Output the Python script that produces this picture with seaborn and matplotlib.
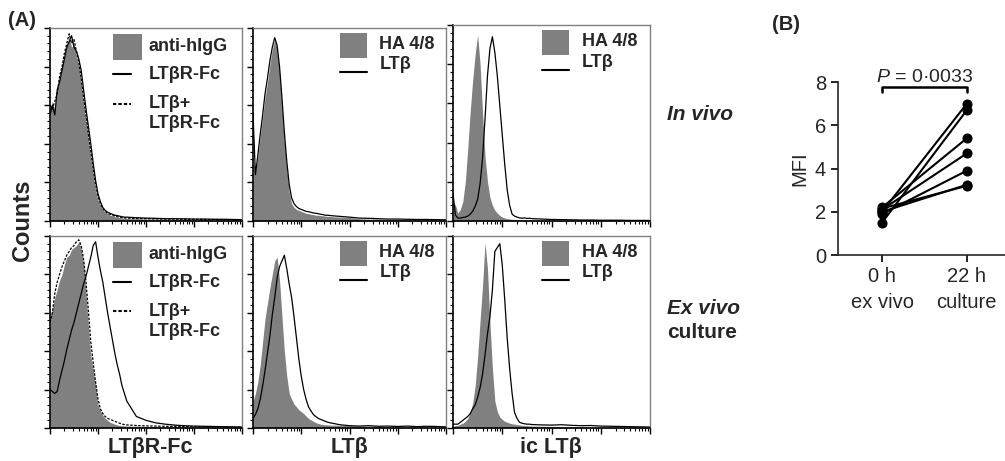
import matplotlib
matplotlib.use('Agg')
import matplotlib.pyplot as plt
import seaborn as sns
import pandas as pd
import numpy as np
from matplotlib.ticker import FixedLocator, MultipleLocator, NullFormatter
from matplotlib.patches import Rectangle

sns.set_style('ticks')
plt.rcParams['font.family'] = ['Liberation Sans', 'DejaVu Sans']
plt.rcParams['mathtext.fontset'] = 'custom'
plt.rcParams['mathtext.it'] = 'Liberation Sans:italic'
plt.rcParams['mathtext.rm'] = 'Liberation Sans'

# fluorescence channel (log10 units), shared by all histograms
channels = [0.00, 0.05, 0.10, 0.15, 0.20, 0.25, 0.30, 0.35, 0.40, 0.45, 0.50,
            0.55, 0.60, 0.65, 0.70, 0.75, 0.80, 0.85, 0.90, 0.95, 1.00, 1.05,
            1.10, 1.15, 1.20, 1.25, 1.30, 1.35, 1.40, 1.45, 1.50, 1.55, 1.60,
            1.80, 2.00, 2.20, 2.40, 2.60, 2.80, 3.00, 3.20, 3.40, 3.60, 3.80, 4.00]

# in vivo, LTbR-Fc staining
invivo_ltbr_igg = [0.58, 0.62, 0.57, 0.70, 0.74, 0.80, 0.85, 0.91, 0.95, 0.90, 0.92, 0.85, 0.80,
                   0.72, 0.61, 0.52, 0.43, 0.33, 0.24, 0.16, 0.11, 0.08, 0.06, 0.045, 0.04,
                   0.03, 0.028, 0.022, 0.02, 0.018, 0.016, 0.014, 0.013,
                   0.012, 0.01, 0.01, 0.009, 0.008, 0.008, 0.007, 0.007, 0.006, 0.006, 0.005, 0.004]
invivo_ltbr_fc = [0.55, 0.60, 0.55, 0.68, 0.72, 0.78, 0.84, 0.90, 0.93, 0.96, 0.90, 0.88, 0.84,
                  0.78, 0.68, 0.58, 0.49, 0.40, 0.30, 0.21, 0.14, 0.10, 0.07, 0.055, 0.045,
                  0.04, 0.035, 0.03, 0.028, 0.025, 0.022, 0.02, 0.02,
                  0.017, 0.015, 0.014, 0.012, 0.012, 0.011, 0.01, 0.01, 0.009, 0.009, 0.008, 0.007]
invivo_ltbr_block = [0.60, 0.58, 0.62, 0.66, 0.75, 0.80, 0.87, 0.92, 0.97, 0.92, 0.94, 0.88, 0.82,
                     0.74, 0.64, 0.55, 0.45, 0.36, 0.27, 0.19, 0.13, 0.09, 0.065, 0.05, 0.04,
                     0.035, 0.03, 0.025, 0.022, 0.02, 0.018, 0.016, 0.015,
                     0.013, 0.012, 0.011, 0.01, 0.01, 0.009, 0.009, 0.008, 0.008, 0.007, 0.006, 0.005]

# in vivo, surface LTb
invivo_lt_ha = [0.32, 0.26, 0.33, 0.44, 0.54, 0.64, 0.72, 0.81, 0.89, 0.94, 0.89, 0.77, 0.59,
                0.41, 0.27, 0.15, 0.09, 0.07, 0.06, 0.055, 0.05, 0.045, 0.04, 0.038, 0.035,
                0.033, 0.03, 0.03, 0.028, 0.027, 0.025, 0.024, 0.023,
                0.02, 0.018, 0.012, 0.01, 0.01, 0.008, 0.008, 0.007, 0.006, 0.006, 0.005, 0.004]
invivo_lt_ltb = [0.56, 0.24, 0.34, 0.45, 0.55, 0.66, 0.74, 0.83, 0.90, 0.95, 0.91, 0.80, 0.64,
                 0.46, 0.31, 0.19, 0.12, 0.09, 0.075, 0.065, 0.06, 0.055, 0.05, 0.048, 0.045,
                 0.042, 0.04, 0.038, 0.035, 0.033, 0.03, 0.03, 0.028,
                 0.024, 0.02, 0.015, 0.014, 0.012, 0.01, 0.01, 0.009, 0.008, 0.008, 0.007, 0.006]

# in vivo, intracellular LTb
invivo_ic_ha = [0.10, 0.08, 0.04, 0.06, 0.10, 0.20, 0.37, 0.56, 0.72, 0.85, 0.95, 0.80, 0.55,
                0.33, 0.20, 0.12, 0.08, 0.055, 0.04, 0.028, 0.02, 0.015, 0.012, 0.01, 0.009,
                0.008, 0.008, 0.007, 0.007, 0.006, 0.006, 0.005, 0.005,
                0.004, 0.004, 0.003, 0.003, 0.003, 0.003, 0.002, 0.002, 0.002, 0.002, 0.002, 0.002]
invivo_ic_ltb = [0.14, 0.03, 0.015, 0.015, 0.018, 0.02, 0.025, 0.035, 0.05, 0.075, 0.11, 0.19, 0.32,
                 0.52, 0.74, 0.88, 0.94, 0.86, 0.74, 0.59, 0.44, 0.29, 0.16, 0.08, 0.035,
                 0.025, 0.02, 0.016, 0.014, 0.016, 0.013, 0.014, 0.012,
                 0.01, 0.008, 0.007, 0.006, 0.005, 0.005, 0.004, 0.004, 0.004, 0.003, 0.003, 0.003]

# ex vivo culture, LTbR-Fc staining
exvivo_ltbr_igg = [0.58, 0.62, 0.68, 0.72, 0.77, 0.80, 0.85, 0.89, 0.90, 0.93, 0.94, 0.95, 0.97,
                   0.93, 0.86, 0.70, 0.53, 0.38, 0.30, 0.22, 0.12, 0.09, 0.066, 0.05, 0.04,
                   0.03, 0.025, 0.02, 0.016, 0.013, 0.012, 0.011, 0.01,
                   0.009, 0.008, 0.007, 0.006, 0.006, 0.005, 0.005, 0.004, 0.004, 0.004, 0.003, 0.003]
exvivo_ltbr_fc = [0.20, 0.19, 0.18, 0.19, 0.25, 0.30, 0.35, 0.41, 0.46, 0.51, 0.55, 0.60, 0.65,
                  0.70, 0.75, 0.79, 0.84, 0.89, 0.95, 0.97, 0.89, 0.82, 0.76, 0.68, 0.60,
                  0.53, 0.46, 0.39, 0.33, 0.28, 0.22, 0.18, 0.14,
                  0.06, 0.04, 0.027, 0.02, 0.015, 0.012, 0.01, 0.009, 0.008, 0.007, 0.006, 0.005]
exvivo_ltbr_block = [0.55, 0.60, 0.70, 0.76, 0.80, 0.84, 0.87, 0.90, 0.92, 0.94, 0.95, 0.97, 0.98,
                     0.95, 0.88, 0.76, 0.61, 0.45, 0.34, 0.24, 0.15, 0.10, 0.075, 0.06, 0.05,
                     0.045, 0.04, 0.035, 0.03, 0.025, 0.02, 0.018, 0.016,
                     0.013, 0.011, 0.01, 0.009, 0.008, 0.007, 0.006, 0.006, 0.005, 0.005, 0.004, 0.004]

# ex vivo culture, surface LTb
exvivo_lt_ha = [0.14, 0.18, 0.24, 0.33, 0.45, 0.57, 0.65, 0.73, 0.80, 0.87, 0.89, 0.77, 0.58,
                0.40, 0.27, 0.18, 0.15, 0.125, 0.11, 0.095, 0.085, 0.075, 0.062, 0.05, 0.042,
                0.035, 0.028, 0.024, 0.02, 0.018, 0.017, 0.016, 0.015,
                0.014, 0.012, 0.01, 0.009, 0.008, 0.007, 0.006, 0.005, 0.005, 0.004, 0.004, 0.003]
exvivo_lt_ltb = [0.05, 0.07, 0.10, 0.15, 0.22, 0.30, 0.39, 0.48, 0.59, 0.68, 0.78, 0.84, 0.87,
                 0.90, 0.83, 0.75, 0.68, 0.58, 0.47, 0.36, 0.27, 0.20, 0.15, 0.11, 0.09,
                 0.07, 0.06, 0.05, 0.045, 0.04, 0.035, 0.03, 0.027,
                 0.017, 0.012, 0.01, 0.012, 0.009, 0.01, 0.008, 0.01, 0.007, 0.009, 0.008, 0.006]

# ex vivo culture, intracellular LTb
exvivo_ic_ha = [0.01, 0.012, 0.014, 0.02, 0.025, 0.035, 0.05, 0.08, 0.13, 0.22, 0.37, 0.56, 0.74,
                0.965, 0.83, 0.55, 0.31, 0.14, 0.085, 0.057, 0.045, 0.035, 0.03, 0.025, 0.022,
                0.02, 0.018, 0.016, 0.014, 0.013, 0.012, 0.011, 0.01,
                0.009, 0.008, 0.007, 0.006, 0.005, 0.005, 0.004, 0.004, 0.003, 0.003, 0.003, 0.002]
exvivo_ic_ltb = [0.02, 0.02, 0.02, 0.03, 0.04, 0.05, 0.06, 0.075, 0.10, 0.12, 0.16, 0.21, 0.28,
                 0.38, 0.49, 0.58, 0.72, 0.92, 0.94, 0.96, 0.85, 0.67, 0.47, 0.31, 0.18,
                 0.08, 0.05, 0.03, 0.025, 0.022, 0.02, 0.02, 0.018,
                 0.016, 0.015, 0.017, 0.014, 0.012, 0.013, 0.01, 0.009, 0.008, 0.007, 0.006, 0.005]

# panel B: MFI per donor
subjects = ['d1', 'd2', 'd3', 'd4', 'd5', 'd6', 'd7']
time_labels = ['0 h\nex vivo', '22 h\nculture']
mfi_0h = [1.5, 2.0, 2.2, 2.1, 1.9, 2.0, 2.15]
mfi_22h = [6.7, 7.0, 5.4, 4.7, 3.9, 3.25, 3.2]

fig = plt.figure(figsize=(10.05, 4.61), dpi=100)
W, H = 1005, 461


def px_axes(x0, y0, x1, y1):
    return fig.add_axes([x0 / W, 1 - y1 / H, (x1 - x0) / W, (y1 - y0) / H])


def style_hist(ax):
    ax.set_xlim(0, 4)
    ax.set_ylim(0, 1.0)
    ax.xaxis.set_major_locator(FixedLocator([0, 1, 2, 3, 4]))
    minors = [n + np.log10(k) for n in range(4) for k in range(2, 10)]
    ax.xaxis.set_minor_locator(FixedLocator(minors))
    ax.yaxis.set_major_locator(MultipleLocator(0.2))
    ax.yaxis.set_minor_locator(MultipleLocator(0.04))
    ax.xaxis.set_major_formatter(NullFormatter())
    ax.yaxis.set_major_formatter(NullFormatter())
    ax.tick_params(which='major', length=4, width=1, direction='out', color='k')
    ax.tick_params(which='minor', length=2.5, width=0.8, direction='out', color='k')
    ax.set_xlabel('')
    ax.set_ylabel('')
    for s in ['left', 'bottom']:
        ax.spines[s].set_color('k')
        ax.spines[s].set_linewidth(1.2)
    for s in ['top', 'right']:
        ax.spines[s].set_visible(True)
        ax.spines[s].set_color('0.5')
        ax.spines[s].set_linewidth(1.0)


LEG_FS = 13


def legend_ltbr(ax):
    ax.add_patch(Rectangle((0.33, 0.835), 0.15, 0.135, transform=ax.transAxes,
                           facecolor='0.5', edgecolor='none'))
    ax.plot([0.33, 0.42], [0.76, 0.76], transform=ax.transAxes, color='k', lw=1.5)
    ax.plot([0.33, 0.42], [0.608, 0.608], transform=ax.transAxes, color='k', lw=1.5,
            ls=(0, (1.6, 1.0)))
    kw = dict(transform=ax.transAxes, fontsize=LEG_FS, fontweight='bold', va='center', ha='left')
    ax.text(0.515, 0.905, 'anti-hIgG', **kw)
    ax.text(0.515, 0.76, 'LTβR-Fc', **kw)
    ax.text(0.515, 0.608, 'LTβ+', **kw)
    ax.text(0.515, 0.505, 'LTβR-Fc', **kw)


def legend_ha(ax):
    ax.add_patch(Rectangle((0.45, 0.845), 0.14, 0.13, transform=ax.transAxes,
                           facecolor='0.5', edgecolor='none'))
    ax.plot([0.45, 0.59], [0.77, 0.77], transform=ax.transAxes, color='k', lw=1.5)
    kw = dict(transform=ax.transAxes, fontsize=LEG_FS, fontweight='bold', va='center', ha='left')
    ax.text(0.655, 0.915, 'HA 4/8', **kw)
    ax.text(0.655, 0.81, 'LTβ', **kw)


panels = [
    ((50, 28, 242, 221), invivo_ltbr_igg, [invivo_ltbr_fc], [invivo_ltbr_block], 'ltbr'),
    ((253, 28, 446, 221), invivo_lt_ha, [invivo_lt_ltb], [], 'ha'),
    ((453, 25, 650, 221), invivo_ic_ha, [invivo_ic_ltb], [], 'ha'),
    ((50, 236, 242, 428), exvivo_ltbr_igg, [exvivo_ltbr_fc], [exvivo_ltbr_block], 'ltbr'),
    ((253, 236, 446, 428), exvivo_lt_ha, [exvivo_lt_ltb], [], 'ha'),
    ((453, 236, 650, 428), exvivo_ic_ha, [exvivo_ic_ltb], [], 'ha'),
]

for box, gray, solids, dashes, kind in panels:
    ax = px_axes(*box)
    ax.fill_between(channels, gray, color='0.5', lw=0)
    for s in solids:
        sns.lineplot(x=channels, y=s, ax=ax, color='k', lw=0.9)
    for d in dashes:
        sns.lineplot(x=channels, y=d, ax=ax, color='k', lw=0.9, ls=(0, (2, 1.2)))
    style_hist(ax)
    if kind == 'ltbr':
        legend_ltbr(ax)
    else:
        legend_ha(ax)

# figure-level labels for panel A
bold = dict(fontweight='bold', ha='center', va='center')
fig.text(22 / W, 1 - 21 / H, '(A)', fontsize=14.5, **bold)
fig.text(22 / W, 1 - 220 / H, 'Counts', rotation=90, fontsize=17, **bold)
fig.text(150 / W, 1 - 447 / H, 'LTβR-Fc', fontsize=15.5, **bold)
fig.text(349 / W, 1 - 447 / H, 'LTβ', fontsize=15.5, **bold)
fig.text(551 / W, 1 - 447 / H, 'ic LTβ', fontsize=15.5, **bold)
fig.text(667 / W, 1 - 115 / H, 'In vivo', fontsize=15, fontweight='bold', style='italic',
         ha='left', va='center')
fig.text(667 / W, 1 - 308 / H, 'Ex vivo', fontsize=15, fontweight='bold', style='italic',
         ha='left', va='center')
fig.text(667 / W, 1 - 332 / H, 'culture', fontsize=15, fontweight='bold', ha='left', va='center')
fig.text(786 / W, 1 - 24 / H, '(B)', fontsize=14.5, **bold)

# panel B
axb = px_axes(838, 82, 1005, 255)
df = pd.DataFrame({
    'subject': subjects * 2,
    'time': [0] * len(subjects) + [1] * len(subjects),
    'mfi': mfi_0h + mfi_22h,
})
sns.lineplot(data=df, x='time', y='mfi', units='subject', estimator=None, ax=axb,
             color='k', lw=1.5, marker='o', markersize=6.5, markeredgecolor='k')
axb.set_xlim(-0.52, 1.45)
axb.set_ylim(0, 8)
axb.set_xticks([0, 1])
axb.set_xticklabels(time_labels, fontsize=14.5, linespacing=1.45)
axb.set_yticks([0, 2, 4, 6, 8])
axb.tick_params(labelsize=14.5, length=5, width=1.2, color='k')
axb.set_xlabel('')
axb.set_ylabel('MFI', fontsize=14.5, labelpad=4)
sns.despine(ax=axb)
for s in ['left', 'bottom']:
    axb.spines[s].set_linewidth(1.2)
axb.plot([0, 0, 1, 1], [7.55, 7.75, 7.75, 7.55], color='k', lw=1.8, clip_on=False)
axb.text(0.5, 7.8, r'$\it{P}$ = 0·0033', fontsize=14, ha='center', va='bottom')

fig.savefig('out.png', dpi=100)
